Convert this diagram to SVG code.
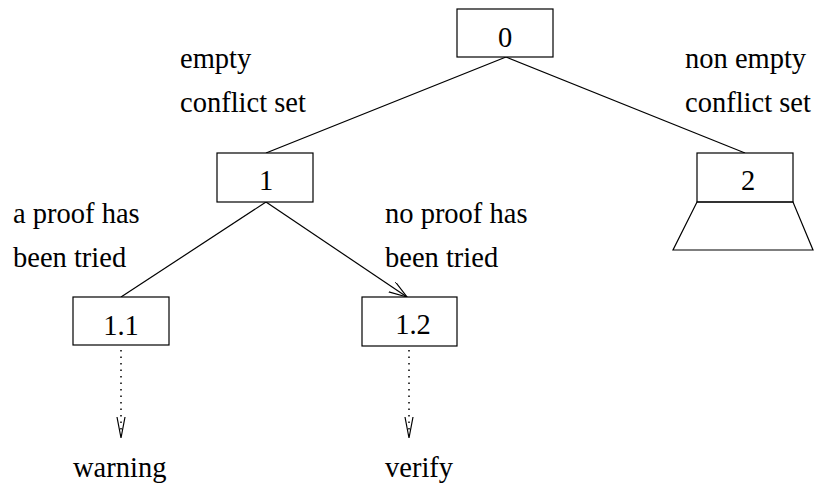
<svg xmlns="http://www.w3.org/2000/svg" width="814" height="487" viewBox="0 0 814 487" font-family="'Liberation Serif', 'Times New Roman', Times, 'DejaVu Serif', serif">
<style>
.box{fill:#fff;stroke:#000;stroke-width:1.2}
.ln{fill:none;stroke:#000;stroke-width:1.2}
.dot{fill:none;stroke:#000;stroke-width:1.5;stroke-dasharray:1.5 5}
text{font-family:'Liberation Serif','Times New Roman',Times,'DejaVu Serif',serif;font-size:28.5px;fill:#000}
.c{text-anchor:middle}
</style>
<defs>
<marker id="open" markerWidth="20" markerHeight="14" refX="18" refY="6" orient="auto" markerUnits="userSpaceOnUse">
<path d="M0,0 L18,6 L0,12" fill="none" stroke="#000" stroke-width="1.2"/>
</marker>
</defs>
<rect width="814" height="487" fill="#fff"/>
<g id="connectors">
<line class="ln" x1="506" y1="57" x2="266" y2="153"/>
<line class="ln" x1="506" y1="57" x2="745" y2="153"/>
<line class="ln" x1="266" y1="202" x2="121" y2="297"/>
<line class="ln" x1="266" y1="202" x2="407" y2="297" marker-end="url(#open)"/>
<line class="dot" x1="121" y1="350" x2="121" y2="436"/>
<polyline class="ln" points="117,417 121,438 125,417"/>
<line class="dot" x1="409" y1="350" x2="409" y2="436"/>
<polyline class="ln" points="405,417 409,438 413,417"/>
</g>
<g id="node0">
<rect class="box" x="457" y="9" width="96" height="48"/>
<text class="c" x="505" y="47">0</text>
</g>
<g id="node1">
<rect class="box" x="217" y="153" width="96" height="49"/>
<text class="c" x="266" y="190">1</text>
</g>
<g id="node2">
<rect class="box" x="697" y="153" width="96" height="49"/>
<polygon class="ln" points="697,202 793,202 813,250 673,250"/>
<text class="c" x="748" y="190">2</text>
</g>
<g id="node11">
<rect class="box" x="73" y="297" width="96" height="48"/>
<text class="c" x="121" y="335">1.1</text>
</g>
<g id="node12">
<rect class="box" x="362" y="297" width="95" height="49"/>
<text class="c" x="413" y="334">1.2</text>
</g>
<g id="labels">
<text x="180" y="68">empty</text>
<text x="180" y="112">conflict set</text>
<text x="685" y="68">non empty</text>
<text x="685" y="112">conflict set</text>
<text x="13" y="223">a proof has</text>
<text x="13" y="267">been tried</text>
<text x="385" y="223">no proof has</text>
<text x="385" y="267">been tried</text>
<text x="73" y="477">warning</text>
<text x="385" y="477">verify</text>
</g>
</svg>
